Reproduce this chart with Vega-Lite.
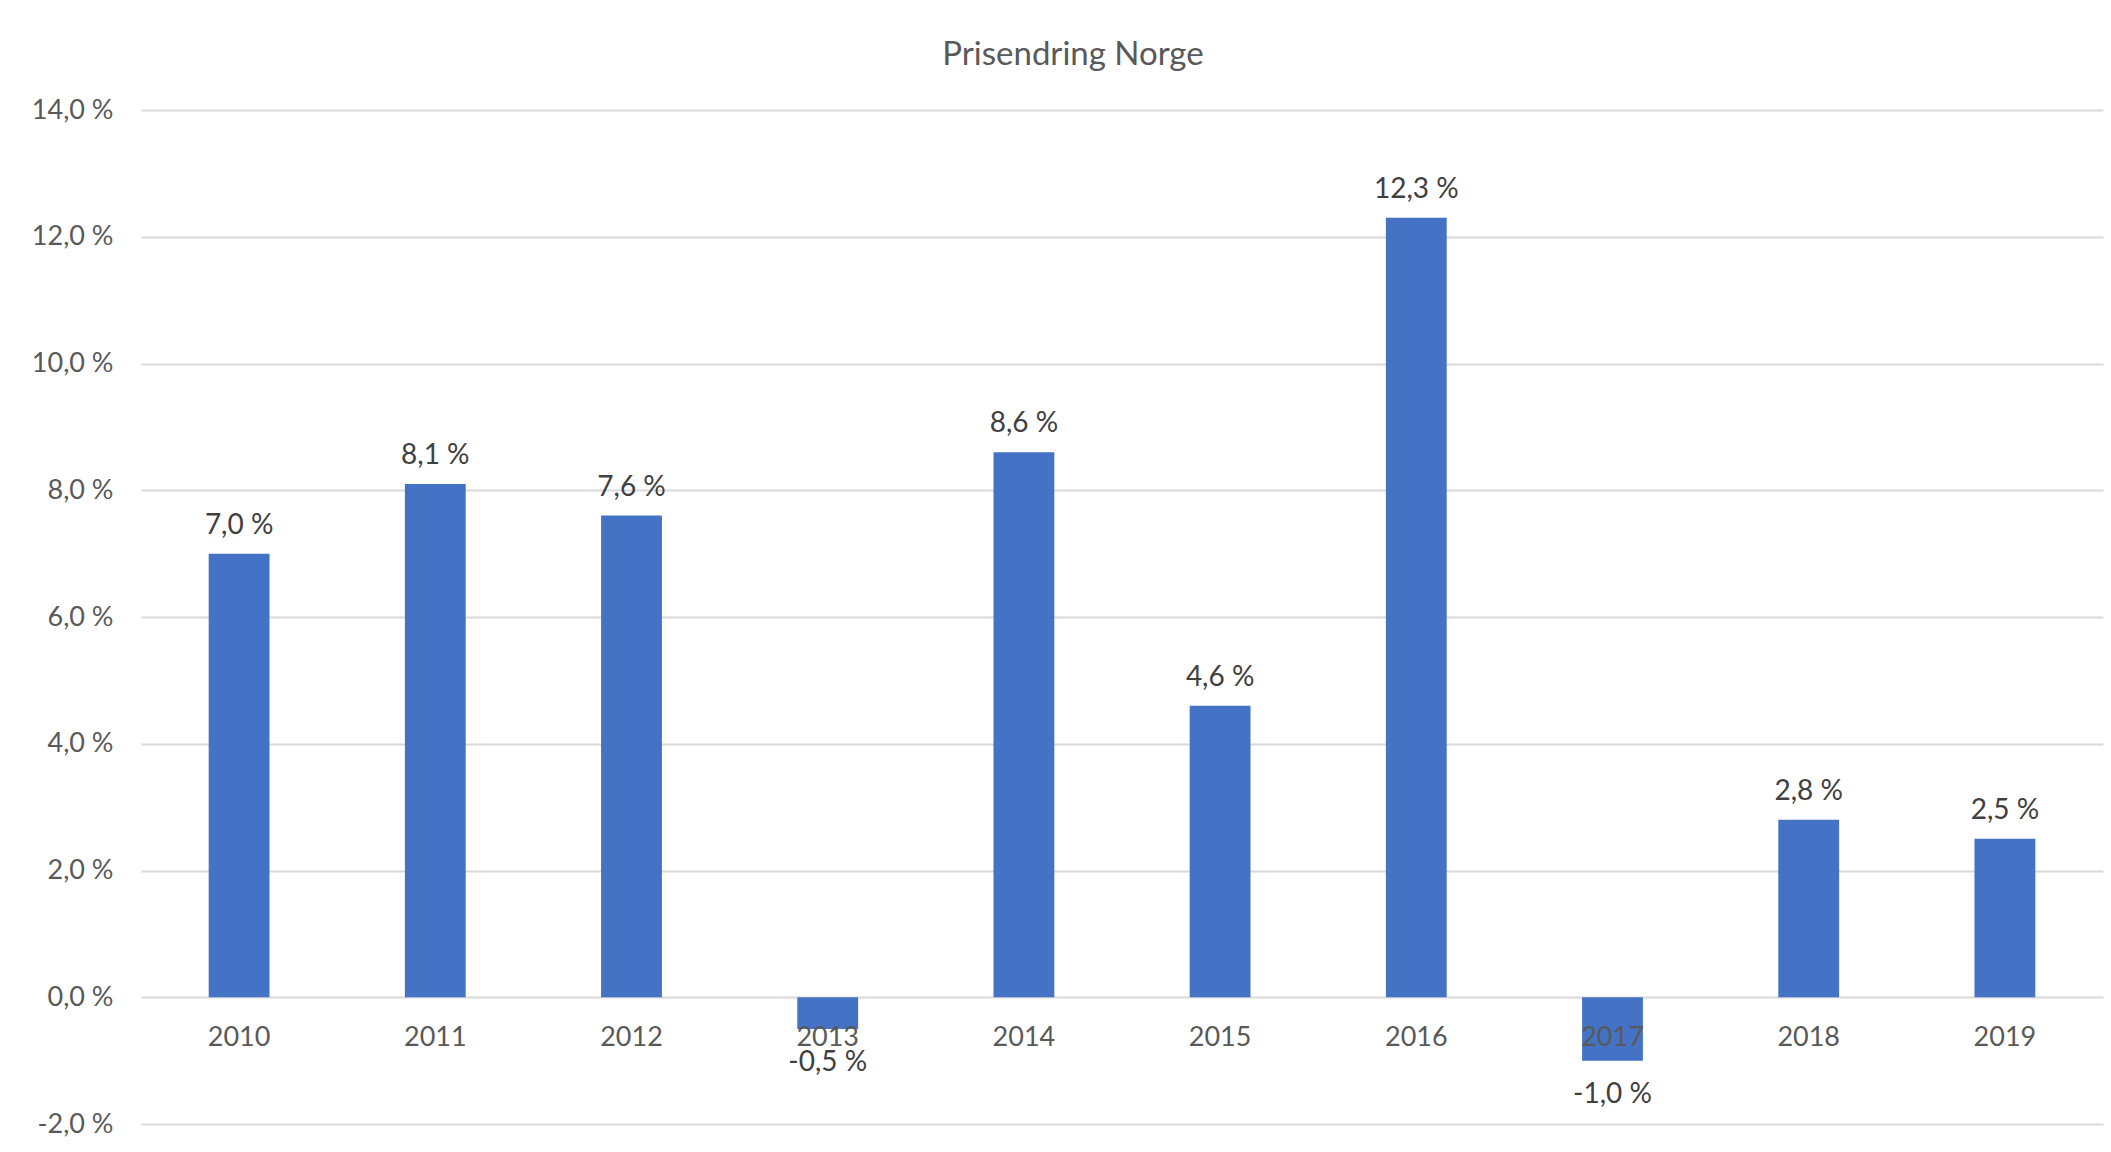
{
  "$schema": "https://vega.github.io/schema/vega-lite/v6.json",
  "autosize": {"type": "none"},
  "width": 1962,
  "height": 1014,
  "padding": {"left": 141, "top": 110, "right": 8, "bottom": 28},
  "background": "white",
  "title": {
    "text": "Prisendring Norge",
    "font": "Lato",
    "fontSize": 33,
    "fontWeight": "normal",
    "color": "#595959",
    "anchor": "middle",
    "offset": 24,
    "dx": -49
  },
  "data": {
    "values": [
      {"year": "2010", "v": 7.0},
      {"year": "2011", "v": 8.1},
      {"year": "2012", "v": 7.6},
      {"year": "2013", "v": -0.5},
      {"year": "2014", "v": 8.6},
      {"year": "2015", "v": 4.6},
      {"year": "2016", "v": 12.3},
      {"year": "2017", "v": -1.0},
      {"year": "2018", "v": 2.8},
      {"year": "2019", "v": 2.5}
    ]
  },
  "transform": [
    {"calculate": "replace(format(datum.v, '.1f'), '.', ',') + ' %'", "as": "label"}
  ],
  "encoding": {
    "x": {
      "field": "year",
      "type": "nominal",
      "sort": null,
      "scale": {"paddingInner": 0.69, "paddingOuter": 0.345},
      "axis": {
        "title": null,
        "labelAngle": 0,
        "domain": false,
        "ticks": false,
        "offset": -126.75,
        "labelPadding": 27,
        "labelFont": "Lato",
        "labelFontSize": 27,
        "labelColor": "#595959",
        "zindex": 1
      }
    },
    "y": {
      "field": "v",
      "type": "quantitative",
      "scale": {"domain": [-2, 14], "nice": false, "zero": false},
      "axis": {
        "title": null,
        "values": [-2, 0, 2, 4, 6, 8, 10, 12, 14],
        "labelExpr": "replace(format(datum.value, '.1f'), '.', ',') + ' %'",
        "domain": false,
        "ticks": false,
        "labelPadding": 28,
        "labelFont": "Lato",
        "labelFontSize": 27,
        "labelColor": "#595959",
        "grid": true,
        "gridColor": "#d9d9d9",
        "gridWidth": 2
      }
    }
  },
  "layer": [
    {
      "mark": {"type": "bar", "color": "#4472C4"},
      "encoding": {"y2": {"datum": 0}}
    },
    {
      "transform": [{"filter": "datum.v >= 0"}],
      "mark": {"type": "text", "dy": -28, "baseline": "middle", "font": "Lato", "fontSize": 28, "color": "#404040"},
      "encoding": {"text": {"field": "label"}}
    },
    {
      "transform": [{"filter": "datum.v < 0"}],
      "mark": {"type": "text", "dy": 34, "baseline": "middle", "font": "Lato", "fontSize": 28, "color": "#404040"},
      "encoding": {"text": {"field": "label"}}
    }
  ],
  "config": {
    "view": {"stroke": null},
    "locale": {"number": {"decimal": ",", "thousands": " ", "grouping": [3], "currency": ["", " kr"], "minus": "-"}}
  }
}
